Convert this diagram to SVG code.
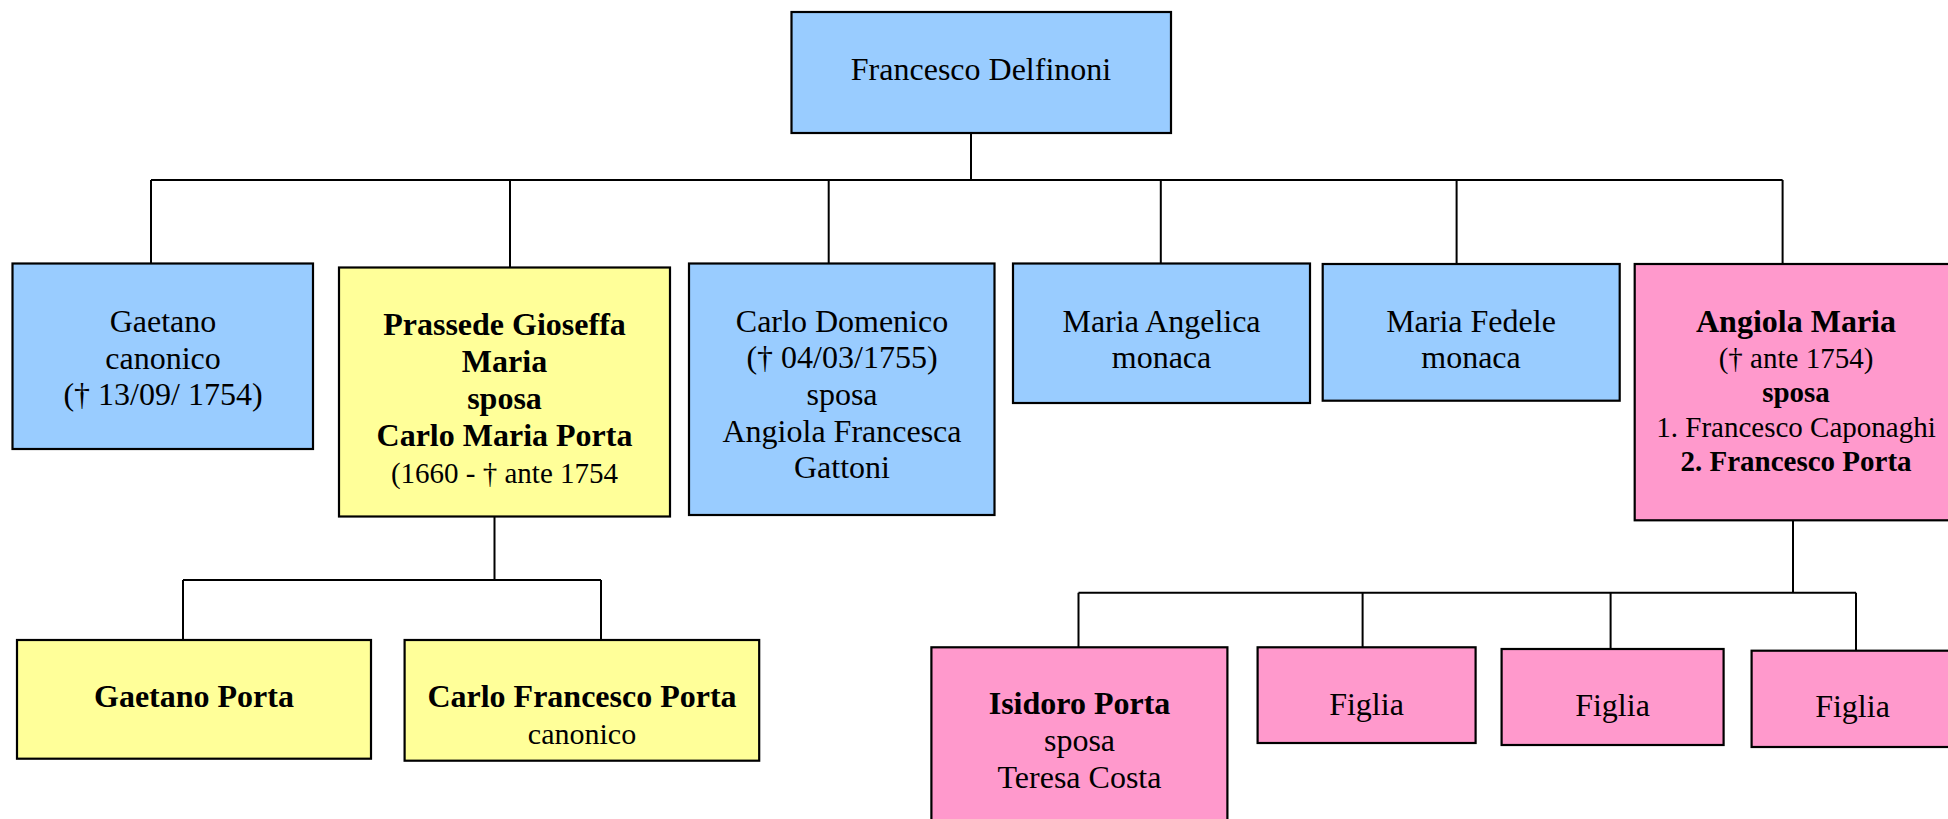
<svg xmlns="http://www.w3.org/2000/svg" width="1948" height="819" viewBox="0 0 1948 819">
<style>
rect{stroke:#000;stroke-width:2.2}
.b{fill:#99CCFF}.y{fill:#FFFF99}.p{fill:#FF99CC}
text{font-family:"Liberation Serif","Times New Roman",serif;font-size:32px;fill:#000;text-anchor:middle}
.bd{font-weight:bold}
.s{font-size:29px}
#connectors path{fill:none;stroke:#000;stroke-width:2}
</style>
<rect x="0" y="0" width="1948" height="819" fill="#fff" style="stroke:none"/>
<g id="connectors">
<path d="M971,133V180M151,180H1782.6M151,180V263.5M510,180V267.5M828.7,180V263.5M1160.8,180V263.5M1456.6,180V264M1782.6,180V264"/>
<path d="M494.5,516.7V580M183,580H601M183,580V640M601,580V640"/>
<path d="M1793,520V592.7M1078.5,592.7H1856M1078.5,592.7V647.3M1362.6,592.7V647.3M1610.6,592.7V649M1856,592.7V650.7"/>
</g>
<g id="francesco-delfinoni">
<rect class="b" x="791.5" y="12" width="379.5" height="121"/>
<text x="981" y="80">Francesco Delfinoni</text>
</g>
<g id="gaetano">
<rect class="b" x="12.5" y="263.5" width="300.5" height="185.5"/>
<text x="163" y="332">Gaetano</text>
<text x="163" y="368.5">canonico</text>
<text x="163" y="405">(† 13/09/ 1754)</text>
</g>
<g id="prassede">
<rect class="y" x="339" y="267.5" width="331" height="249"/>
<text class="bd" x="504.5" y="335">Prassede Gioseffa</text>
<text class="bd" x="504.5" y="372">Maria</text>
<text class="bd" x="504.5" y="409">sposa</text>
<text class="bd" x="504.5" y="446">Carlo Maria Porta</text>
<text class="s" x="504.5" y="482.5">(1660 - † ante 1754</text>
</g>
<g id="carlo-domenico">
<rect class="b" x="689" y="263.5" width="305.5" height="251.5"/>
<text x="842" y="331.7">Carlo Domenico</text>
<text x="842" y="368.3">(† 04/03/1755)</text>
<text x="842" y="405">sposa</text>
<text x="842" y="441.7">Angiola Francesca</text>
<text x="842" y="478.3">Gattoni</text>
</g>
<g id="maria-angelica">
<rect class="b" x="1013" y="263.5" width="297" height="139.5"/>
<text x="1161.5" y="331.7">Maria Angelica</text>
<text x="1161.5" y="368.3">monaca</text>
</g>
<g id="maria-fedele">
<rect class="b" x="1322.7" y="264" width="297" height="136.7"/>
<text x="1471" y="331.7">Maria Fedele</text>
<text x="1471" y="368.3">monaca</text>
</g>
<g id="angiola-maria">
<rect class="p" x="1634.7" y="264" width="330" height="256.3"/>
<text class="bd" x="1796" y="331.7">Angiola Maria</text>
<text class="s" x="1796" y="368.3">(† ante 1754)</text>
<text class="s bd" x="1796" y="402.3">sposa</text>
<text class="s" x="1796" y="436.7">1. Francesco Caponaghi</text>
<text class="s bd" x="1796" y="470.7">2. Francesco Porta</text>
</g>
<g id="gaetano-porta">
<rect class="y" x="17" y="640" width="354" height="118.7"/>
<text class="bd" x="194" y="707.3">Gaetano Porta</text>
</g>
<g id="carlo-francesco-porta">
<rect class="y" x="404.6" y="640" width="354.6" height="120.7"/>
<text class="bd" x="582" y="707.3">Carlo Francesco Porta</text>
<text x="582" y="744" style="font-size:30px">canonico</text>
</g>
<g id="isidoro-porta">
<rect class="p" x="931.4" y="647.3" width="296" height="200"/>
<text class="bd" x="1079.5" y="714">Isidoro Porta</text>
<text x="1079.5" y="750.7">sposa</text>
<text x="1079.5" y="787.7">Teresa Costa</text>
</g>
<g id="figlia-1">
<rect class="p" x="1257.6" y="647.3" width="218" height="95.7"/>
<text x="1366.5" y="715">Figlia</text>
</g>
<g id="figlia-2">
<rect class="p" x="1501.6" y="649" width="222" height="96"/>
<text x="1612.5" y="715.7">Figlia</text>
</g>
<g id="figlia-3">
<rect class="p" x="1751.6" y="650.7" width="210" height="96.3"/>
<text x="1852.5" y="717.3">Figlia</text>
</g>
</svg>
